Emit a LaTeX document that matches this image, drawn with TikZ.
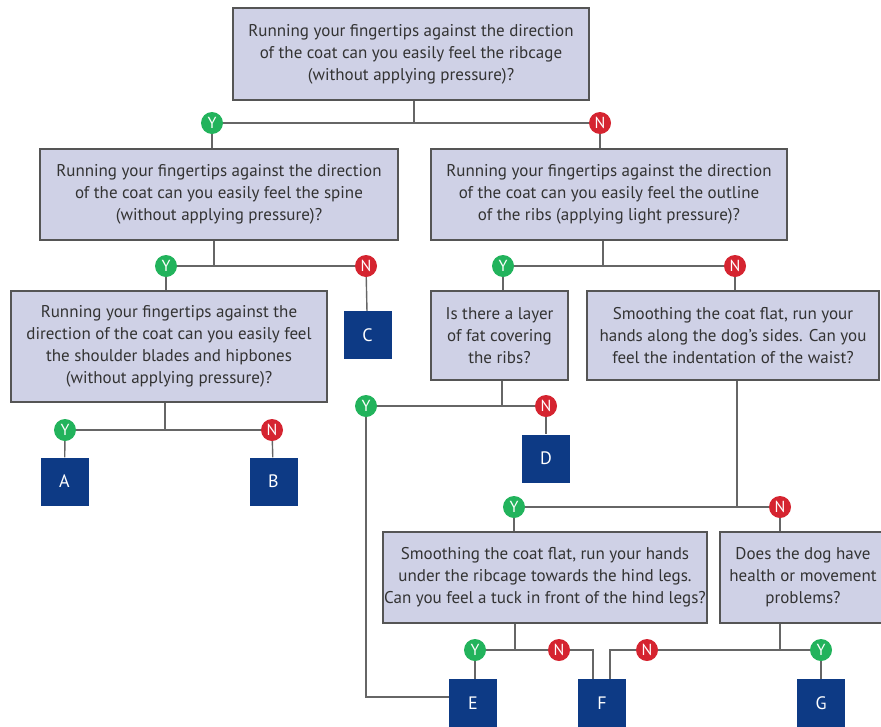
\documentclass[tikz,border=0pt]{standalone}
\usepackage{fontspec}
\setmainfont{PT Sans}
\usetikzlibrary{positioning}

\definecolor{qfill}{HTML}{CFD1E6}
\definecolor{boxgray}{HTML}{555555}
\definecolor{txtgray}{HTML}{333333}
\definecolor{linegray}{HTML}{666666}
\definecolor{navy}{HTML}{0D3A85}
\definecolor{ygreen}{HTML}{22B35C}
\definecolor{nred}{HTML}{D52430}

\begin{document}
\begin{tikzpicture}[
		x=1pt, y=-1pt,
		font=\fontsize{17}{22}\selectfont,
		question/.style={draw=boxgray, line width=1.4pt, fill=qfill, text=txtgray, align=center, inner sep=0pt},
		result/.style={fill=navy, text=white, minimum size=48pt, inner sep=0pt, font=\fontsize{18}{18}\selectfont},
		answer/.style={circle, text=white, minimum size=22pt, inner sep=0pt, font=\fontsize{16}{16}\selectfont},
		yes/.style={answer, fill=ygreen},
		no/.style={answer, fill=nred},
		link/.style={draw=linegray, line width=1.4pt}
		]
		
		\useasboundingbox (0,0) rectangle (881,726);
		
		% Questions
		\node (q1) [question, minimum width=356pt, minimum height=92pt] at (411,54)
		{Running your fingertips against the direction\\
			of the coat can you easily feel the ribcage\\
			(without applying pressure)?};
		
		\node (q2) [question, minimum width=358pt, minimum height=91pt] at (219,194.5)
		{Running your fingertips against the direction\\
			of the coat can you easily feel the spine\\
			(without applying pressure)?};
		
		\node (q3) [question, minimum width=356pt, minimum height=91pt] at (609,194.5)
		{Running your fingertips against the direction\\
			of the coat can you easily feel the outline\\
			of the ribs (applying light pressure)?};
		
		\node (q4) [question, minimum width=316pt, minimum height=111pt] at (169,346.5)
		{Running your fingertips against the\\
			direction of the coat can you easily feel\\
			the shoulder blades and hipbones\\
			(without applying pressure)?};
		
		\node (q5) [question, minimum width=137pt, minimum height=89pt] at (499.5,335.5)
		{Is there a layer\\
			of fat covering\\
			the ribs?};
		
		\node (q6) [question, minimum width=292pt, minimum height=89pt] at (733,335.5)
		{Smoothing the coat flat, run your\\
			hands along the dog’s sides. Can you\\
			feel the indentation of the waist?};
		
		\node (q7) [question, minimum width=324pt, minimum height=91pt] at (545,577.5)
		{Smoothing the coat flat, run your hands\\
			under the ribcage towards the hind legs.\\
			Can you feel a tuck in front of the hind legs?};
		
		\node (q8) [question, minimum width=166pt, minimum height=91pt] at (803,577.5)
		{Does the dog have\\
			health or movement\\
			problems?};
		
		% Results
		\node (a) [result] at (64.5,481.5) {A};
		\node (b) [result] at (273.5,481.5) {B};
		\node (c) [result] at (367.5,335) {C};
		\node (d) [result] at (546,458.5) {D};
		\node (e) [result] at (473,703) {E};
		\node (f) [result] at (602,703) {F};
		\node (g) [result] at (821,703) {G};
		
		% Answers
		\node (y1) [yes] at (212,123) {Y};
		\node (n1) [no] at (600,123) {N};
		\node (y2) [yes] at (166,266) {Y};
		\node (n2) [no] at (366,266) {N};
		\node (y3) [yes] at (503,266) {Y};
		\node (n3) [no] at (735,266) {N};
		\node (y4) [yes] at (65,430) {Y};
		\node (n4) [no] at (272,430) {N};
		\node (y5) [yes] at (366,406) {Y};
		\node (n5) [no] at (546,406) {N};
		\node (y6) [yes] at (514,507) {Y};
		\node (n6) [no] at (780,507) {N};
		\node (y7) [yes] at (475,650) {Y};
		\node (n7) [no] at (559,650) {N};
		\node (n8) [no] at (647,650) {N};
		\node (y8) [yes] at (821,650) {Y};
		
		% Lines (\dx moves the stem off the box centre)
		\foreach \q/\y/\n/\dx in {q1/y1/n1/3, q2/y2/n2/-5, q3/y3/n3/-6, q4/y4/n4/-4,
			q5/y5/n5/2.5, q6/y6/n6/4, q7/y7/n7/-30, q8/n8/y8/-23}
		{
			\draw[link] (\y) -- (\n);
			\draw[link] ([xshift=\dx pt]\q.south) -- ([xshift=\dx pt]\q.south |- \y);
		}
		
		\draw[link] (y1) -- (y1 |- q2.north);
		\draw[link] (n1) -- (n1 |- q3.north);
		\draw[link] (y2) -- (y2 |- q4.north);
		\draw[link] (n2) -- (c);
		\draw[link] (y3) -- (y3 |- q5.north);
		\draw[link] (n3) -- (n3 |- q6.north);
		\draw[link] (y4) -- (a);
		\draw[link] (n4) -- (b);
		\draw[link] (n5) -- (d);
		\draw[link] (y5) |- ([yshift=6pt]e.west);
		\draw[link] (y6) -- (y6 |- q7.north);
		\draw[link] (n6) -- (n6 |- q8.north);
		\draw[link] (y7) -- (y7 |- e.north);
		\draw[link] (n7) -| ([xshift=-9pt]f.north);
		\draw[link] (n8) -| ([xshift=8pt]f.north);
		\draw[link] (y8) -- (g);
		
	\end{tikzpicture}
\end{document}
